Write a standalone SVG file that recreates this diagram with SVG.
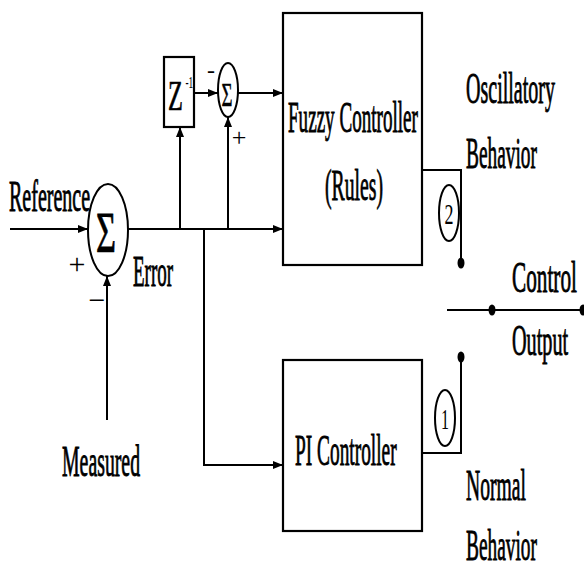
<svg xmlns="http://www.w3.org/2000/svg" width="584" height="569" viewBox="0 0 584 569">
<style>
.ln{stroke:#000;stroke-width:2;fill:none}
.bx{stroke:#000;stroke-width:2.2;fill:#fff}
.t{font-family:"Liberation Serif","Times New Roman",serif;font-size:44px;fill:#000;stroke:#000;stroke-width:0.9}
.s{font-family:"Liberation Serif","Times New Roman",serif;fill:#000}
</style>
<defs>
<marker id="ah" viewBox="0 0 10 10" refX="10" refY="5" markerWidth="10" markerHeight="10" markerUnits="userSpaceOnUse" orient="auto">
<path d="M0,1 L10,5 L0,9 Z" fill="#000"/>
</marker>
</defs>
<rect width="584" height="569" fill="#fff"/>
<g id="connectors">
<line class="ln" x1="10" y1="229" x2="88" y2="229" marker-end="url(#ah)"/>
<line class="ln" x1="107" y1="420" x2="107" y2="276" marker-end="url(#ah)"/>
<line class="ln" x1="128" y1="229" x2="283" y2="229" marker-end="url(#ah)"/>
<line class="ln" x1="180" y1="229" x2="180" y2="127" marker-end="url(#ah)"/>
<line class="ln" x1="228" y1="229" x2="228" y2="117" marker-end="url(#ah)"/>
<line class="ln" x1="194" y1="93" x2="218" y2="93" marker-end="url(#ah)"/>
<line class="ln" x1="238" y1="93" x2="283" y2="93" marker-end="url(#ah)"/>
<polyline class="ln" points="204,229 204,465 283,465" marker-end="url(#ah)"/>
<polyline class="ln" points="422,170 461,170 461,262"/>
<polyline class="ln" points="422,453 461,453 461,357"/>
<line class="ln" x1="447" y1="310" x2="584" y2="310"/>
<ellipse cx="461" cy="263" rx="3.5" ry="5.5" fill="#000"/>
<ellipse cx="461" cy="357" rx="3.5" ry="5.5" fill="#000"/>
<ellipse cx="492" cy="310" rx="3.5" ry="5.5" fill="#000"/>
<ellipse cx="583" cy="310" rx="3.5" ry="5.5" fill="#000"/>
</g>
<g id="sum-main">
<ellipse class="ln" cx="108" cy="230" rx="20" ry="46"/>
<text class="s" x="106" y="252" font-size="58" text-anchor="middle" textLength="20" lengthAdjust="spacingAndGlyphs" stroke="#000" stroke-width="0.8">Σ</text>
<text class="s" x="77" y="274" font-size="30" text-anchor="middle">+</text>
<text class="s" x="97" y="310" font-size="30" text-anchor="middle">−</text>
</g>
<g id="reference-label"><text class="t" transform="translate(9,211) scale(0.455,1)">Reference</text></g>
<g id="error-label"><text class="t" transform="translate(133,286) scale(0.431,1)">Error</text></g>
<g id="measured-label"><text class="t" transform="translate(62,476) scale(0.450,1)">Measured</text></g>
<g id="z-delay">
<rect class="bx" x="164" y="57" width="30" height="70"/>
<text class="s" transform="translate(168,110) scale(0.58,1)" font-size="42" stroke="#000" stroke-width="0.6">Z<tspan x="30" y="-22" font-size="16" stroke-width="0">-1</tspan></text>
</g>
<g id="sum-small">
<ellipse class="ln" cx="228" cy="90" rx="10" ry="27"/>
<text class="s" x="227" y="106" font-size="34" text-anchor="middle" textLength="11" lengthAdjust="spacingAndGlyphs" stroke="#000" stroke-width="0.5">Σ</text>
<text class="s" x="211" y="78" font-size="24" text-anchor="middle">-</text>
<text class="s" x="239" y="146" font-size="26" text-anchor="middle">+</text>
</g>
<g id="fuzzy-controller">
<rect class="bx" x="283" y="13" width="139" height="252"/>
<text class="t" transform="translate(288,132) scale(0.434,1)">Fuzzy Controller</text>
<text class="t" transform="translate(325,200) scale(0.448,1)">(Rules)</text>
</g>
<g id="pi-controller">
<rect class="bx" x="283" y="360" width="139" height="171"/>
<text class="t" transform="translate(295,465) scale(0.44,1)">PI Controller</text>
</g>
<g id="switch-2">
<ellipse class="ln" cx="449" cy="213" rx="10" ry="28"/>
<text class="s" x="449" y="224" font-size="30" text-anchor="middle" textLength="9" lengthAdjust="spacingAndGlyphs">2</text>
</g>
<g id="switch-1">
<ellipse class="ln" cx="445" cy="418" rx="10" ry="28"/>
<text class="s" x="445" y="429" font-size="30" text-anchor="middle" textLength="8" lengthAdjust="spacingAndGlyphs">1</text>
</g>
<g id="labels-right">
<text class="t" transform="translate(466,103) scale(0.455,1)">Oscillatory</text>
<text class="t" transform="translate(466,168) scale(0.44,1)">Behavior</text>
<text class="t" transform="translate(512,292) scale(0.483,1)">Control</text>
<text class="t" transform="translate(512,355) scale(0.46,1)">Output</text>
<text class="t" transform="translate(466,500) scale(0.446,1)">Normal</text>
<text class="t" transform="translate(466,560) scale(0.44,1)">Behavior</text>
</g>
</svg>
